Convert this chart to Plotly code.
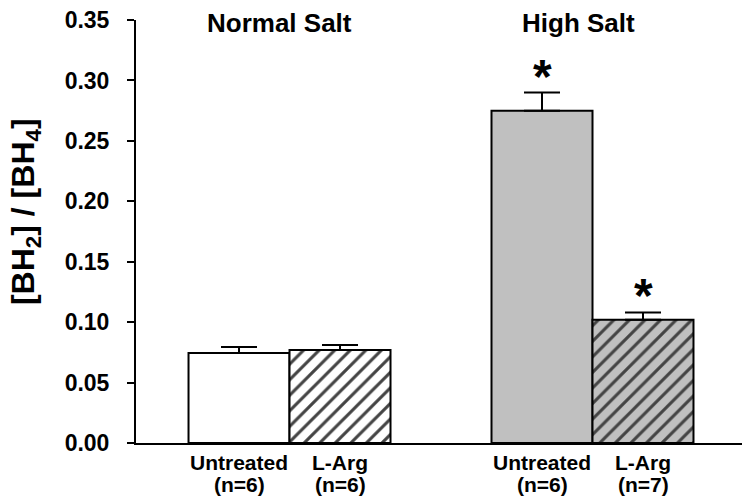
import plotly.graph_objects as go

treatments = ["Untreated", "L-Arg", "Untreated", "L-Arg"]
sample_sizes = ["(n=6)", "(n=6)", "(n=6)", "(n=7)"]
positions = [0, 1, 3, 4]
values = [0.0745, 0.077, 0.275, 0.102]
errors = [0.005, 0.004, 0.015, 0.006]
fill_colors = ["#ffffff", "#ffffff", "#c0c0c0", "#c0c0c0"]
patterns = ["", "/", "", "/"]
significant = [False, False, True, True]
groups = ["Normal Salt", "High Salt"]
group_centers = [0.40, 3.36]
y_ticks = [0.00, 0.05, 0.10, 0.15, 0.20, 0.25, 0.30, 0.35]

FONT = "Liberation Sans, Arial, sans-serif"

fig = go.Figure()
fig.add_trace(go.Bar(
    x=positions, y=values, width=1,
    marker=dict(color=fill_colors, line=dict(color="black", width=2),
                pattern=dict(shape=patterns, fgcolor="black", fgopacity=1,
                             size=11, solidity=0.28)),
    error_y=dict(type="data", symmetric=False, array=errors, arrayminus=[0]*4,
                 color="black", thickness=2, width=18),
    showlegend=False,
))

annotations = []
for p, v, e, s in zip(positions, values, errors, significant):
    if s:
        annotations.append(dict(x=p, y=v + e, yref="y", xref="x", text="*",
                                showarrow=False, yanchor="bottom", yshift=-12,
                                font=dict(family=FONT, size=48, color="black", weight="bold")))
for p, n in zip(positions, sample_sizes):
    annotations.append(dict(x=p, y=0, yref="paper", xref="x", text=n, showarrow=False,
                            yanchor="middle", yshift=-41,
                            font=dict(family=FONT, size=21, color="black", weight="bold")))
for g, c in zip(groups, group_centers):
    annotations.append(dict(x=c, y=1.0, xref="x", yref="paper", text=g, showarrow=False,
                            yanchor="middle", yshift=-3,
                            font=dict(family=FONT, size=26, color="black", weight="bold")))
annotations.append(dict(x=0, y=0.546, xref="paper", yref="paper", xshift=-111,
                        text="[BH<sub>2</sub>] / [BH<sub>4</sub>]", textangle=-90,
                        showarrow=False, xanchor="center", yanchor="middle",
                        font=dict(family=FONT, size=32, color="black", weight="bold")))

fig.update_layout(
    width=742, height=493,
    margin=dict(l=128, r=5, t=12, b=58, autoexpand=False),
    plot_bgcolor="white", paper_bgcolor="white",
    font=dict(family=FONT, color="black"),
    annotations=annotations,
    xaxis=dict(range=[-1.02, 5.01], tickvals=positions, ticktext=treatments,
               showline=True, linecolor="black", linewidth=2, ticks="",
               ticklabelstandoff=0, ticklabeloverflow="allow",
               showgrid=False, zeroline=False, automargin=False,
               tickfont=dict(family=FONT, size=21, color="black", weight="bold")),
    yaxis=dict(range=[0, 0.35001], tickvals=y_ticks, tickformat=".2f",
               showline=True, linecolor="black", linewidth=2,
               ticks="outside", ticklen=7, tickwidth=2, tickcolor="black",
               ticklabelstandoff=13, ticklabeloverflow="allow",
               showgrid=False, zeroline=False, automargin=False,
               tickfont=dict(family=FONT, size=23, color="black", weight="bold")),
)

fig.write_html("out.html")
